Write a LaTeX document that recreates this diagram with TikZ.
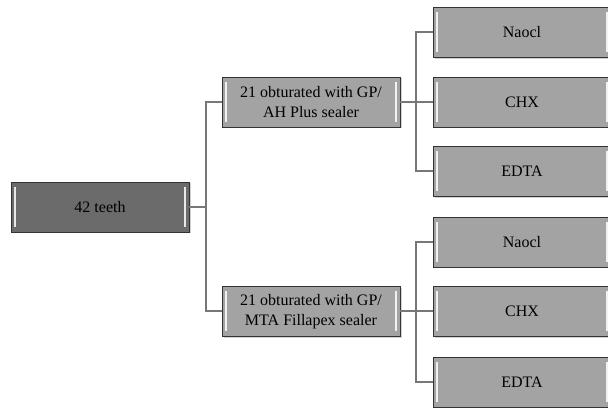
\documentclass[tikz,border=0pt]{standalone}
\usepackage{fontspec}
\setmainfont{Liberation Serif}
\usetikzlibrary{shadows}
\definecolor{rootfill}{HTML}{6B6B6B}
\definecolor{boxfill}{HTML}{A3A3A3}
\definecolor{boxedge}{HTML}{333333}
\definecolor{linkcol}{HTML}{777777}
\tikzset{
  basebox/.style={rectangle, draw=boxedge, line width=0.9pt, minimum width=178pt, minimum height=50pt,
    inner sep=0pt, align=center, font=\fontsize{16}{19.5}\selectfont,
    drop shadow={shadow xshift=1.5pt, shadow yshift=-1.5pt, fill=black!30, opacity=0.6},
    path picture={
      \draw[white, line width=1.4pt, opacity=0.85]
        ([xshift=4pt,yshift=-5pt]path picture bounding box.north west) --
        ([xshift=4pt,yshift=5pt]path picture bounding box.south west);
      \draw[white, line width=1.4pt, opacity=0.85]
        ([xshift=-4pt,yshift=-5pt]path picture bounding box.north east) --
        ([xshift=-4pt,yshift=5pt]path picture bounding box.south east);
    }},
  rootbox/.style={basebox, fill=rootfill},
  graybox/.style={basebox, fill=boxfill},
  link/.style={draw=linkcol, line width=2pt}
}
\begin{document}
\begin{tikzpicture}[x=1pt, y=-1pt]
\useasboundingbox (0,0) rectangle (608,411);
\clip (0,0) rectangle (608,411);
\node[rootbox] (root) at (100,207) {42 teeth};
\node[graybox] (m1) at (311,102) {21 obturated with GP/\\AH Plus sealer};
\node[graybox] (m2) at (311,311.5) {21 obturated with GP/\\MTA Fillapex sealer};
\node[graybox] (a1) at (522,32.5) {Naocl};
\node[graybox] (a2) at (522,102) {CHX};
\node[graybox] (a3) at (522,171.5) {EDTA};
\node[graybox] (b1) at (522,242) {Naocl};
\node[graybox] (b2) at (522,311.5) {CHX};
\node[graybox] (b3) at (522,382) {EDTA};
\begin{scope}[on background layer/.try]
\end{scope}
\draw[link] (root.east) -- ++(17,0) coordinate (r1) |- (m1.west);
\draw[link] (r1) |- (m2.west);
\draw[link] (m1.east) -- ++(16,0) coordinate (s1) |- (a1.west);
\draw[link] (s1) -- (a2.west);
\draw[link] (s1) |- (a3.west);
\draw[link] (m2.east) -- ++(16,0) coordinate (s2) |- (b1.west);
\draw[link] (s2) -- (b2.west);
\draw[link] (s2) |- (b3.west);
\end{tikzpicture}
\end{document}
